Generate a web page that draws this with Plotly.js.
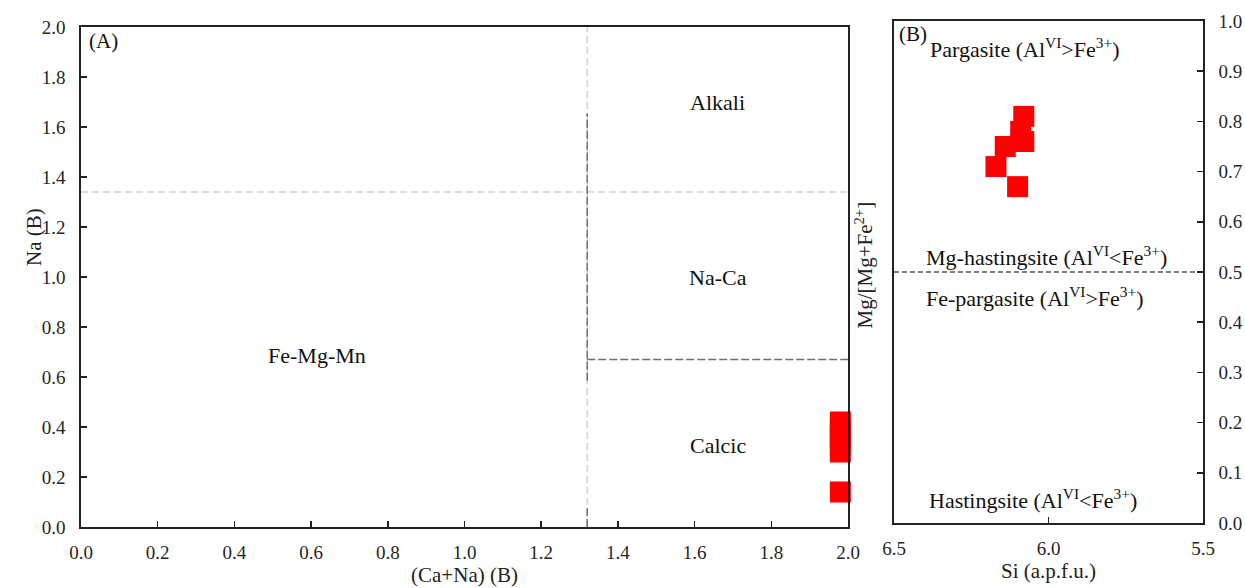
<!DOCTYPE html>
<html>
<head>
<meta charset="utf-8">
<script src="https://cdn.plot.ly/plotly-3.0.1.min.js"></script>
<style>html,body{margin:0;padding:0;background:#fff}#chart{width:1245px;height:588px}</style>
</head>
<body>
<div id="chart"></div>
<script>
// Panel A: (Ca+Na)(B) vs Na(B)
const caNaB = [1.98, 1.98, 1.98, 1.98, 1.98, 1.98];
const naB   = [0.42, 0.39, 0.36, 0.33, 0.30, 0.14];
// Panel B: Si vs Mg/(Mg+Fe2+)
const siApfu = [6.08, 6.09, 6.08, 6.14, 6.17, 6.10];
const mgNum  = [0.81, 0.78, 0.76, 0.75, 0.71, 0.67];

// classification boundaries
const bndCaNa = 1.32;     // vertical boundary (Ca+Na)
const bndNaHigh = 1.34;   // Na upper boundary
const bndNaLow = 0.67;    // Na lower boundary
const bndMg = 0.5;        // Mg# boundary
const rangeA = [0, 2];
const rangeBx = [6.5, 5.5];
const rangeBy = [0, 1];

const FONT = "'Liberation Serif', 'Times New Roman', serif";
const light = '#d2d2d2', dark = '#707070';

const traces = [
  {x:[bndCaNa,bndCaNa], y:rangeA, xaxis:'x', yaxis:'y', mode:'lines',
   line:{color:light,width:1.5,dash:'7px,4px'}, hoverinfo:'skip'},
  {x:rangeA, y:[bndNaHigh,bndNaHigh], xaxis:'x', yaxis:'y', mode:'lines',
   line:{color:light,width:1.5,dash:'7px,4px'}, hoverinfo:'skip'},
  {x:[bndCaNa,bndCaNa], y:[0.585,1.655], xaxis:'x', yaxis:'y', mode:'lines',
   line:{color:dark,width:1.5,dash:'8px,3px'}, hoverinfo:'skip'},
  {x:[bndCaNa,bndCaNa], y:[0,0.085], xaxis:'x', yaxis:'y', mode:'lines',
   line:{color:dark,width:1.5,dash:'8px,3px'}, hoverinfo:'skip'},
  {x:[bndCaNa,rangeA[1]], y:[bndNaLow,bndNaLow], xaxis:'x', yaxis:'y', mode:'lines',
   line:{color:dark,width:1.5,dash:'8px,3px'}, hoverinfo:'skip'},
  {x:rangeBx, y:[bndMg,bndMg], xaxis:'x2', yaxis:'y2', mode:'lines',
   line:{color:'#000',width:1.2,dash:'5px,3px'}, hoverinfo:'skip'},
  {x:caNaB, y:naB, xaxis:'x', yaxis:'y', mode:'markers', cliponaxis:false,
   marker:{symbol:'square',size:21,color:'#ff0000',line:{width:0}}},
  {x:siApfu, y:mgNum, xaxis:'x2', yaxis:'y2', mode:'markers', cliponaxis:false,
   marker:{symbol:'square',size:21,color:'#ff0000',line:{width:0}}}
];

const tickFont = {family:FONT,size:19,color:'#262626'};
const axBase = {showline:true, linecolor:'#222', linewidth:1.8, mirror:true,
  ticks:'inside', ticklen:6, tickwidth:1.5, tickcolor:'#222', showgrid:false,
  zeroline:false, tickfont:tickFont, fixedrange:true};

const annFont = {family:FONT,size:22,color:'#111'};
const titleFont = {family:FONT,size:21,color:'#222'};
const layout = {
  width:1245, height:588, showlegend:false,
  paper_bgcolor:'#fff', plot_bgcolor:'#fff',
  margin:{l:0,r:0,t:0,b:0},
  xaxis:Object.assign({}, axBase, {domain:[81/1245,848/1245], anchor:'y',
    range:rangeA, dtick:0.2, tickformat:'.1f', ticklabelstandoff:7,
    title:{text:'(Ca+Na) (B)', font:titleFont, standoff:5}}),
  yaxis:Object.assign({}, axBase, {domain:[1-527/588,1-27/588], anchor:'x',
    range:rangeA, dtick:0.2, tickformat:'.1f', ticklabelstandoff:10}),
  xaxis2:Object.assign({}, axBase, {domain:[894/1245,1203/1245], anchor:'y2',
    range:rangeBx, dtick:0.5, tickformat:'.1f', ticklabelstandoff:7,
    title:{text:'Si (a.p.f.u.)', font:titleFont, standoff:5}}),
  yaxis2:Object.assign({}, axBase, {domain:[1-523/588,1-21/588], anchor:'x2', side:'right',
    range:rangeBy, dtick:0.1, tickformat:'.1f', ticklabelstandoff:10}),
  annotations:[
    {xref:'x',yref:'y',x:0.015,y:2.0,xanchor:'left',yanchor:'top',text:'(A)',showarrow:false,font:{family:FONT,size:21,color:'#111'}},
    {xref:'x',yref:'y',x:1.66,y:1.70,text:'Alkali',showarrow:false,font:annFont},
    {xref:'x',yref:'y',x:1.66,y:1.00,text:'Na-Ca',showarrow:false,font:annFont},
    {xref:'x',yref:'y',x:1.66,y:0.325,text:'Calcic',showarrow:false,font:annFont},
    {xref:'x',yref:'y',x:0.615,y:0.685,text:'Fe-Mg-Mn',showarrow:false,font:annFont},
    {xref:'paper',yref:'paper',x:897/1245,y:1-20/588,xanchor:'left',yanchor:'top',text:'(B)',showarrow:false,font:{family:FONT,size:21,color:'#111'}},
    {xref:'x2',yref:'y2',x:6.39,y:0.946,xanchor:'left',text:'Pargasite (Al<sup>VI</sup>>Fe<sup>3+</sup>)',showarrow:false,font:annFont},
    {xref:'x2',yref:'y2',x:6.402,y:0.532,xanchor:'left',text:'Mg-hastingsite (Al<sup>VI</sup><Fe<sup>3+</sup>)',showarrow:false,font:annFont},
    {xref:'x2',yref:'y2',x:6.402,y:0.45,xanchor:'left',text:'Fe-pargasite (Al<sup>VI</sup>>Fe<sup>3+</sup>)',showarrow:false,font:annFont},
    {xref:'x2',yref:'y2',x:6.393,y:0.047,xanchor:'left',text:'Hastingsite (Al<sup>VI</sup><Fe<sup>3+</sup>)',showarrow:false,font:annFont},
    {xref:'paper',yref:'paper',x:20/1245,y:1-237/588,textangle:-90,text:'Na (B)',showarrow:false,font:titleFont},
    {xref:'paper',yref:'paper',x:879/1245,y:1-265/588,textangle:-90,text:'Mg/[Mg+Fe<sup>2+</sup>]',showarrow:false,font:titleFont}
  ]
};
Plotly.newPlot('chart', traces, layout, {staticPlot:true, displayModeBar:false});
</script>
</body>
</html>
